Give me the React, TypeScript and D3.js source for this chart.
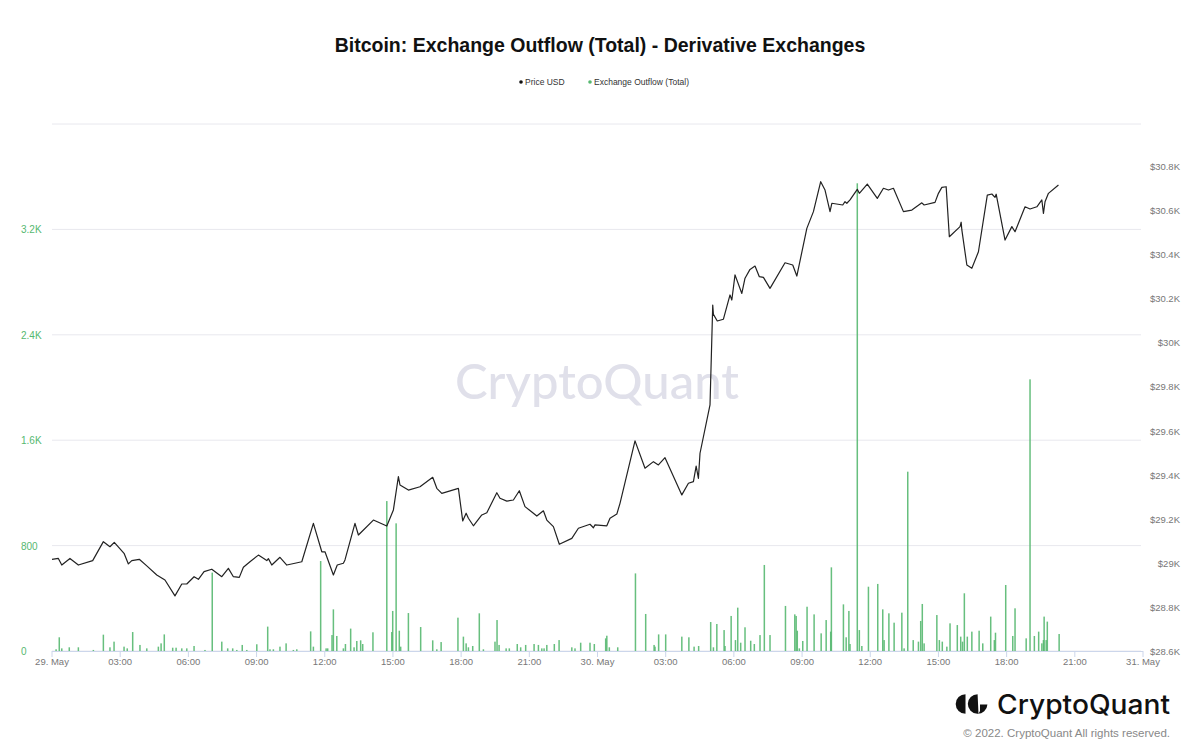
import React from "react";
import * as d3 from "d3";

// ---- Data (hours since 29 May 2022 00:00) ----
const priceHours = [
  0.0, 0.28, 0.43, 0.79, 1.16, 1.79, 2.26, 2.55, 2.74, 3.17, 3.36, 3.51, 3.84, 4.17, 4.61, 4.97, 5.41, 5.71, 5.93,
  6.25, 6.44, 6.69, 7.03, 7.47, 7.76, 7.98, 8.24, 8.42, 8.71, 9.08, 9.45, 9.52, 9.67, 10.03, 10.33, 10.69, 10.99,
  11.5, 11.87, 12.01, 12.38, 12.55, 12.82, 12.89, 13.33, 13.48, 14.14, 14.73, 15.02, 15.24, 15.31, 15.68, 16.19,
  16.75, 16.93, 17.15, 17.88, 18.07, 18.22, 18.32, 18.54, 18.91, 19.13, 19.57, 19.71, 20.01, 20.3, 20.56, 20.81,
  21.18, 21.33, 21.62, 21.77, 22.06, 22.32, 22.87, 23.16, 23.67, 23.82, 23.89, 24.41, 24.55, 24.85, 24.99, 25.65,
  26.09, 26.46, 26.68, 26.97, 27.71, 28.0, 28.22, 28.34, 28.44, 28.51, 28.95, 29.07, 29.1, 29.27, 29.54, 29.83,
  29.91, 30.05, 30.35, 30.49, 30.71, 30.93, 31.12, 31.3, 31.59, 32.25, 32.59, 32.77, 33.21, 33.5, 33.82, 34.01,
  34.23, 34.31, 34.79, 34.89, 34.97, 35.11, 35.43, 35.52, 35.87, 36.31, 36.58, 36.8, 37.02, 37.46, 37.83, 38.27,
  38.37, 38.85, 39.0, 39.15, 39.34, 39.48, 39.95, 40.0, 40.03, 40.25, 40.47, 40.76, 41.15, 41.35, 41.49, 41.54,
  41.93, 42.23, 42.37, 42.81, 43.03, 43.33, 43.55, 43.62, 43.69, 43.84, 44.28,
];
const priceValues = [
  29016, 29020, 28990, 29020, 28990, 29010, 29096, 29073, 29093, 29043, 28995, 29010, 29016, 28986, 28945, 28922,
  28850, 28904, 28904, 28937, 28925, 28960, 28971, 28937, 28975, 28937, 28934, 28980, 29005, 29035, 29010, 29019,
  28990, 29025, 28990, 28998, 29005, 29179, 29050, 29050, 28945, 28990, 28998, 29013, 29179, 29126, 29194, 29167,
  29240, 29391, 29353, 29330, 29345, 29388, 29338, 29315, 29338, 29190, 29225, 29202, 29168, 29217, 29227, 29318,
  29293, 29280, 29285, 29327, 29255, 29225, 29212, 29236, 29194, 29164, 29084, 29111, 29157, 29175, 29159, 29172,
  29168, 29202, 29221, 29270, 29553, 29429, 29459, 29444, 29477, 29308, 29361, 29368, 29439, 29383, 29497, 29716,
  30169, 30127, 30097, 30105, 30215, 30192, 30306, 30222, 30291, 30331, 30346, 30298, 30295, 30245, 30361, 30351,
  30301, 30517, 30593, 30729, 30691, 30593, 30631, 30623, 30638, 30631, 30646, 30694, 30676, 30718, 30653, 30699,
  30691, 30699, 30593, 30600, 30633, 30623, 30635, 30676, 30703, 30706, 30479, 30525, 30545, 30510, 30351, 30336,
  30411, 30668, 30673, 30658, 30672, 30464, 30525, 30502, 30615, 30605, 30615, 30646, 30585, 30638, 30676, 30714,
];

const outflowHours = [
  0.18, 0.32, 0.43, 0.76, 1.16, 1.82, 2.26, 2.55, 2.73, 3.17, 3.31, 3.55, 3.87, 4.17, 4.68, 4.8, 4.94, 5.31, 5.46,
  5.71, 5.93, 6.25, 6.73, 7.05, 7.47, 7.73, 7.95, 8.13, 8.37, 8.57, 9.01, 9.49, 9.59, 9.74, 10.03, 10.3, 10.62,
  10.77, 11.38, 11.5, 11.82, 12.06, 12.13, 12.32, 12.38, 12.53, 12.82, 12.91, 13.14, 13.29, 13.41, 13.58, 13.67,
  14.12, 14.73, 14.95, 14.99, 15.14, 15.28, 15.34, 15.68, 16.22, 16.75, 16.93, 17.12, 17.86, 18.1, 18.22, 18.32,
  18.51, 18.8, 18.98, 19.49, 19.58, 19.67, 19.98, 20.12, 20.47, 20.62, 20.84, 21.21, 21.4, 21.55, 21.65, 21.77,
  22.1, 22.31, 22.87, 23.01, 23.26, 23.67, 23.86, 24.36, 24.41, 24.52, 24.89, 25.67, 26.12, 26.49, 26.53, 26.69,
  27.0, 27.71, 28.02, 28.25, 28.45, 28.98, 29.1, 29.25, 29.57, 29.61, 29.88, 30.07, 30.17, 30.3, 30.49, 30.74,
  30.9, 31.15, 31.34, 31.59, 32.27, 32.68, 32.74, 32.79, 32.88, 33.03, 33.22, 33.53, 33.84, 34.06, 34.26, 34.29,
  34.82, 34.94, 35.06, 35.11, 35.43, 35.52, 35.63, 35.92, 36.33, 36.55, 36.61, 36.82, 37.05, 37.39, 37.49, 37.65,
  37.89, 38.12, 38.22, 38.29, 38.37, 38.93, 39.04, 39.17, 39.37, 39.51, 39.83, 39.98, 40.06, 40.14, 40.27, 40.47,
  40.79, 40.95, 41.3, 41.46, 41.51, 41.96, 42.27, 42.37, 42.86, 43.03, 43.22, 43.41, 43.55, 43.62, 43.65, 43.74,
  43.79, 44.31,
];
const outflowValues = [
  13, 104, 20, 28, 28, 8, 124, 28, 71, 33, 20, 144, 46, 20, 33, 58, 126, 25, 25, 20, 20, 38, 8, 595, 71, 20, 20, 8,
  46, 8, 51, 185, 13, 13, 33, 58, 8, 13, 149, 33, 683, 20, 20, 121, 316, 114, 20, 53, 170, 28, 76, 81, 53, 142, 1138,
  144, 304, 969, 154, 33, 288, 182, 81, 13, 68, 253, 109, 58, 28, 38, 286, 13, 71, 235, 46, 20, 20, 53, 28, 46, 53,
  46, 20, 20, 46, 53, 83, 28, 20, 63, 63, 53, 96, 116, 28, 28, 589, 281, 46, 33, 126, 126, 109, 104, 33, 38, 220,
  28, 205, 159, 38, 266, 83, 329, 63, 180, 78, 53, 121, 653, 121, 342, 278, 266, 154, 20, 76, 336, 278, 134, 235,
  147, 635, 354, 104, 304, 53, 3550, 159, 38, 488, 509, 316, 83, 286, 215, 291, 20, 1361, 83, 71, 228, 357, 58, 273,
  83, 71, 33, 210, 197, 109, 71, 438, 109, 147, 154, 58, 261, 83, 139, 501, 114, 324, 96, 2062, 114, 147, 58, 83,
  261, 83, 223, 129,
];

const leftTicks = [0, 800, 1600, 2400, 3200, 4000];
const leftTickLabels = ["0", "800", "1.6K", "2.4K", "3.2K", ""];
const rightTicks = [28600, 28800, 29000, 29200, 29400, 29600, 29800, 30000, 30200, 30400, 30600, 30800];
const rightTickLabels = ["$28.6K", "$28.8K", "$29K", "$29.2K", "$29.4K", "$29.6K", "$29.8K", "$30K", "$30.2K", "$30.4K", "$30.6K", "$30.8K"];

const TITLE = "Bitcoin: Exchange Outflow (Total) - Derivative Exchanges";
const START = new Date(2022, 4, 29, 0, 0);
const END = new Date(2022, 4, 31, 0, 0);

const W = 1200;
const H = 756;
const M = { left: 52, right: 1143, top: 124, bottom: 651 };
const GREEN = "#56b870";
const FONT = "'Liberation Sans', Arial, Helvetica, sans-serif";

const toDate = (h: number) => new Date(START.getTime() + h * 3600 * 1000);

export default function App() {
  const x = d3.scaleTime().domain([START, END]).range([M.left, M.right]);
  const yL = d3.scaleLinear().domain([0, 4000]).range([M.bottom, M.top]);
  const yR = d3.scaleLinear().domain([28600, 30800]).range([M.bottom, 166]);

  const xTicks = d3.timeHour.every(3)!.range(START, new Date(END.getTime() + 1));
  const fmtTick = (d: Date) =>
    d.getHours() === 0 ? `${d.getDate()}. May` : d3.timeFormat("%H:%M")(d);

  const pricePts: [number, number][] = priceHours.map((h, i) => [x(toDate(h)), yR(priceValues[i])]);
  const line = d3.line<[number, number]>().x((d) => d[0]).y((d) => d[1]);

  return (
    <div style={{ margin: -8 }}>
      <svg width={W} height={H} style={{ display: "block", background: "#fff" }} fontFamily={FONT}>
        {/* watermark */}
        <text x={597} y={399} textAnchor="middle" fontFamily="Lato, 'Open Sans', sans-serif" fontSize={49}
          fontWeight={500} fill="#e0e0ea">CryptoQuant</text>

        {/* title */}
        <text x={600} y={52} textAnchor="middle" fontSize={19.5} fontWeight="bold" fill="#111">{TITLE}</text>

        {/* legend */}
        <circle cx={521} cy={82} r={1.8} fill="#111" />
        <text x={525} y={85} fontSize={8.5} fill="#333">Price USD</text>
        <circle cx={590} cy={82} r={1.8} fill={GREEN} />
        <text x={594} y={85} fontSize={8.5} fill="#333">Exchange Outflow (Total)</text>

        {/* grid */}
        {leftTicks.map((t) => (
          <line key={t} x1={M.left} x2={1141} y1={yL(t)} y2={yL(t)} stroke="#e8e8ee" strokeWidth={1} />
        ))}

        {/* left axis labels */}
        {leftTicks.map((t, i) => (
          <text key={t} x={21} y={yL(t) + 4} fontSize={10} fill={GREEN}>{leftTickLabels[i]}</text>
        ))}

        {/* right axis labels */}
        {rightTicks.map((t, i) => (
          <text key={t} x={1180} y={yR(t) + 4} textAnchor="end" fontSize={9.5} fill="#777">{rightTickLabels[i]}</text>
        ))}

        {/* bars */}
        {outflowHours.map((h, i) => (
          <rect key={i} x={x(toDate(h)) - 0.75} width={1.5} y={yL(outflowValues[i])}
            height={M.bottom - yL(outflowValues[i])} fill={GREEN} opacity={0.9} />
        ))}

        {/* x axis */}
        <line x1={M.left} x2={M.right} y1={M.bottom + 0.5} y2={M.bottom + 0.5} stroke="#ccd6eb" />
        {xTicks.map((d, i) => (
          <g key={i} transform={`translate(${x(d)},0)`}>
            <line y1={M.bottom} y2={M.bottom + 6} stroke="#ccd6eb" />
            <text y={665} textAnchor="middle" fontSize={9.5} fill="#777">{fmtTick(d)}</text>
          </g>
        ))}

        {/* price line */}
        <path d={line(pricePts) || ""} fill="none" stroke="#222" strokeWidth={1.2} strokeLinejoin="round" />

        {/* logo */}
        <path d="M965.5,694.2 A9.8,9.8 0 0,0 965.5,713.8 Z" fill="#111" />
        <path d="M977.6,694.2 A9.8,9.8 0 1,0 987.4,704.5 L980,704.5 L980,711 L978.5,713.8 Z" fill="#111" />
        <text x={997} y={714} fontFamily="Inter, 'Open Sans', sans-serif" fontSize={27} fontWeight={500}
          fill="#111" textLength={173} lengthAdjust="spacingAndGlyphs">CryptoQuant</text>
        <text x={1170} y={737} textAnchor="end" fontSize={11.5} fill="#888">© 2022. CryptoQuant All rights reserved.</text>
      </svg>
    </div>
  );
}
